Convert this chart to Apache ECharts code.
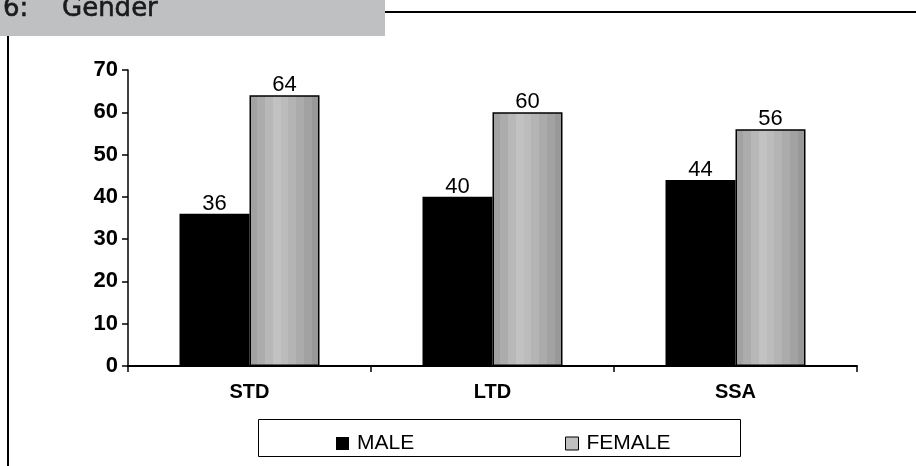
<!DOCTYPE html>
<html>
<head>
<meta charset="utf-8">
<script src="https://cdn.jsdelivr.net/npm/echarts@6/dist/echarts.min.js"></script>
<style>
  html, body { margin: 0; padding: 0; background: #fff; }
  #chart { width: 916px; height: 466px; }
</style>
</head>
<body>
<div id="chart"></div>
<script>
// Gender split per group (percent)
const categories = ['STD', 'LTD', 'SSA'];
const maleValues = [36, 40, 44];
const femaleValues = [64, 60, 56];
const yTicks = [0, 10, 20, 30, 40, 50, 60, 70];

// Banded grey fill for the female bars
const bandColors = ['#a2a2a2', '#acacac', '#b8b8b8', '#c2c2c2', '#bcbcbc', '#b4b4b4', '#ababab', '#a2a2a2', '#989898'];
const bandStops = [];
bandColors.forEach(function (c, i) {
  bandStops.push({ offset: i / bandColors.length, color: c });
  bandStops.push({ offset: (i + 1) / bandColors.length - 0.0001, color: c });
});
const femaleFill = new echarts.graphic.LinearGradient(0, 0, 1, 0, bandStops);

const chart = echarts.init(document.getElementById('chart'), null, { renderer: 'canvas' });

const labelFont = { fontFamily: 'Liberation Sans, Arial, sans-serif', color: '#000' };
const headingStyle = { fill: '#1a1a1a', stroke: '#1a1a1a', lineWidth: 0.6, fontSize: 26, fontFamily: 'DejaVu Sans, sans-serif', verticalAlign: 'middle', align: 'left' };

chart.setOption({
  animation: false,
  backgroundColor: '#fff',
  grid: { left: 128, right: 59, top: 70, bottom: 100, containLabel: false },
  legend: [
    {
      data: [{ name: 'MALE', itemStyle: { color: '#000' } }],
      left: 336, top: 433, padding: 0,
      icon: 'rect', itemWidth: 13, itemHeight: 13,
      textStyle: Object.assign({ fontSize: 21, padding: [0, 0, 0, 3] }, labelFont)
    },
    {
      data: [{ name: 'FEMALE', itemStyle: { color: '#c0c0c0', borderColor: '#000', borderWidth: 1 } }],
      left: 565, top: 433, padding: 0,
      icon: 'rect', itemWidth: 13, itemHeight: 13,
      textStyle: Object.assign({ fontSize: 21, padding: [0, 0, 0, 3] }, labelFont)
    }
  ],
  xAxis: {
    type: 'category',
    data: categories,
    axisLine: { lineStyle: { color: '#000', width: 2 } },
    axisTick: { show: true, length: 6, lineStyle: { color: '#000', width: 1.5 } },
    axisLabel: Object.assign({ fontSize: 20, fontWeight: 'bold', margin: 16 }, labelFont)
  },
  yAxis: {
    type: 'value',
    min: yTicks[0],
    max: yTicks[yTicks.length - 1],
    interval: 10,
    splitLine: { show: false },
    axisLine: { show: true, lineStyle: { color: '#000', width: 1.5 } },
    axisTick: { show: true, length: 6, lineStyle: { color: '#000', width: 1.5 } },
    axisLabel: Object.assign({ fontSize: 22, fontWeight: 'bold', margin: 10 }, labelFont)
  },
  series: [
    {
      name: 'MALE',
      type: 'bar',
      data: maleValues,
      barWidth: 70,
      barGap: '0%',
      itemStyle: { color: '#000' },
      label: Object.assign({ show: true, position: 'top', distance: -1, fontSize: 22 }, labelFont)
    },
    {
      name: 'FEMALE',
      type: 'bar',
      data: femaleValues,
      barWidth: 70,
      itemStyle: { color: femaleFill, borderColor: '#000', borderWidth: 1.5 },
      label: Object.assign({ show: true, position: 'top', distance: -1, fontSize: 22 }, labelFont)
    }
  ],
  graphic: [
    // heading band
    { type: 'rect', shape: { x: 0, y: 0, width: 385, height: 36 }, style: { fill: '#bfc0c2' }, z: 10 },
    { type: 'text', x: 3, y: 9, style: Object.assign({ text: '6:' }, headingStyle), z: 11 },
    { type: 'text', x: 62, y: 9, style: Object.assign({ text: 'Gender' }, headingStyle), z: 11 },
    { type: 'line', shape: { x1: 385, y1: 12, x2: 916, y2: 12 }, style: { stroke: '#000', lineWidth: 2 }, z: 10 },
    { type: 'line', shape: { x1: 8, y1: 36, x2: 8, y2: 466 }, style: { stroke: '#000', lineWidth: 2 }, z: 10 },
    // legend frame
    { type: 'rect', shape: { x: 258.5, y: 419.5, width: 482, height: 37 }, style: { fill: 'none', stroke: '#000', lineWidth: 1 }, z: 1 }
  ]
});
</script>
</body>
</html>
